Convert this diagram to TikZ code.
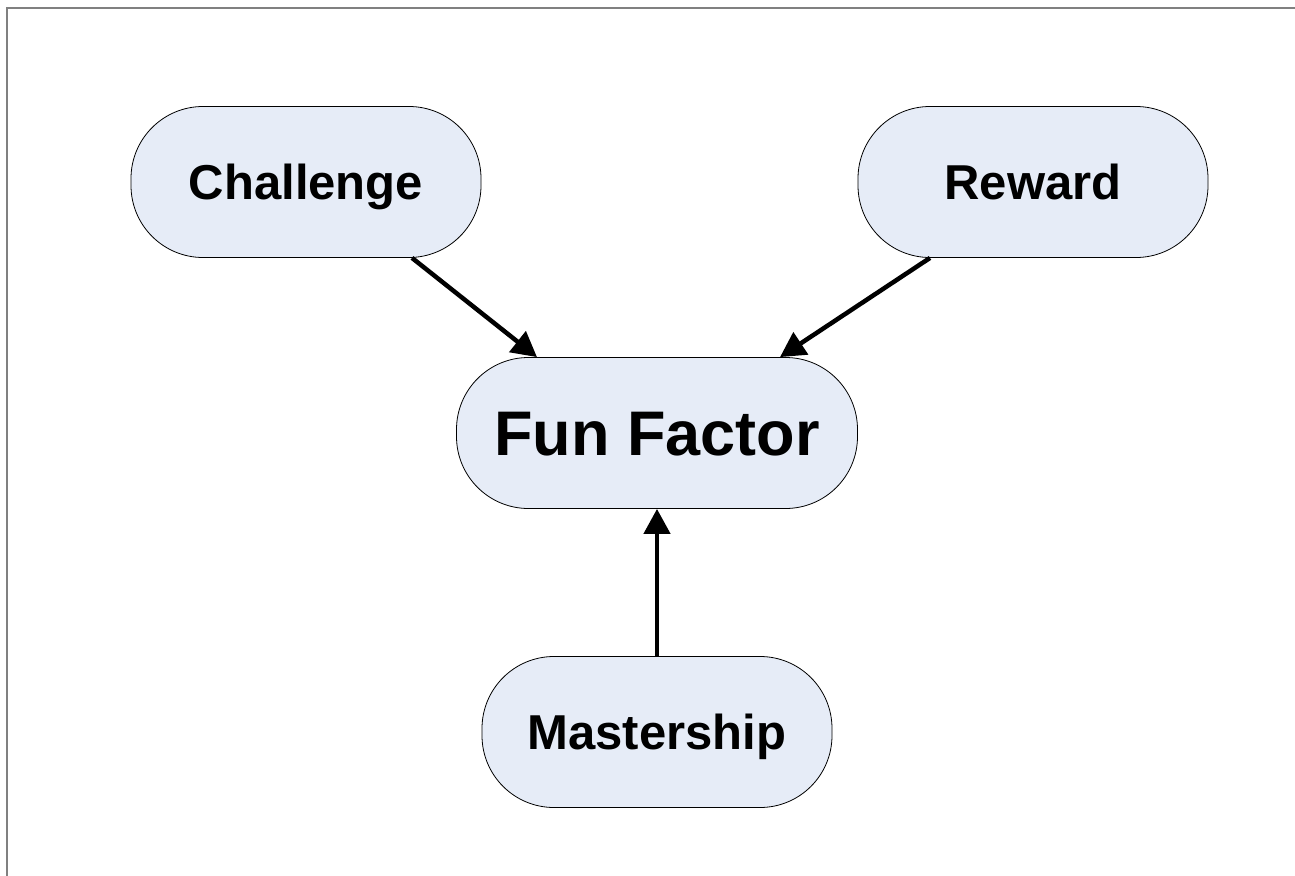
\documentclass[tikz,border=0pt]{standalone}
\usepackage{fontspec}
\setmainfont{Liberation Sans}
\usetikzlibrary{arrows.meta}

\definecolor{pillblue}{RGB}{230,236,247}
\definecolor{framegray}{RGB}{128,128,128}

\begin{document}
\begin{tikzpicture}[x=1pt,y=-1pt,
        pill/.style = {draw=black, line width=0.8pt, fill=pillblue, rounded corners=72pt,
                       minimum width=350pt, minimum height=151pt, inner sep=0pt,
                       text height=35pt, text depth=0pt,
                       font=\fontsize{49}{54}\selectfont\bfseries},
        bigpill/.style = {pill, minimum width=401pt, text height=45pt,
                          font=\fontsize{63}{68}\selectfont\bfseries},
        link/.style = {line width=4.5pt, arrows = -{Triangle[length=25pt,width=26pt]}}]

            \useasboundingbox (0,0) rectangle (1295,875);
            \draw[framegray, line width=2.5pt] (7,8) rectangle (1310,890);

            %\draw [help lines] (0,0) grid (1295,875);

            \path   (306,182)  node (chal) [pill] {Challenge}
                    (1033,182) node (rew)  [pill] {Reward}
                    (657,433)  node (fun)  [bigpill] {Fun Factor}
                    (657,732)  node (mast) [pill] {Mastership};

            \draw[link] ([xshift=106pt]chal.south) -- ([xshift=-120pt]fun.north);
            \draw[link] ([xshift=-103pt]rew.south) -- ([xshift=123pt]fun.north);
            \draw[link] (mast.north) -- (fun.south);
        \end{tikzpicture}
\end{document}
